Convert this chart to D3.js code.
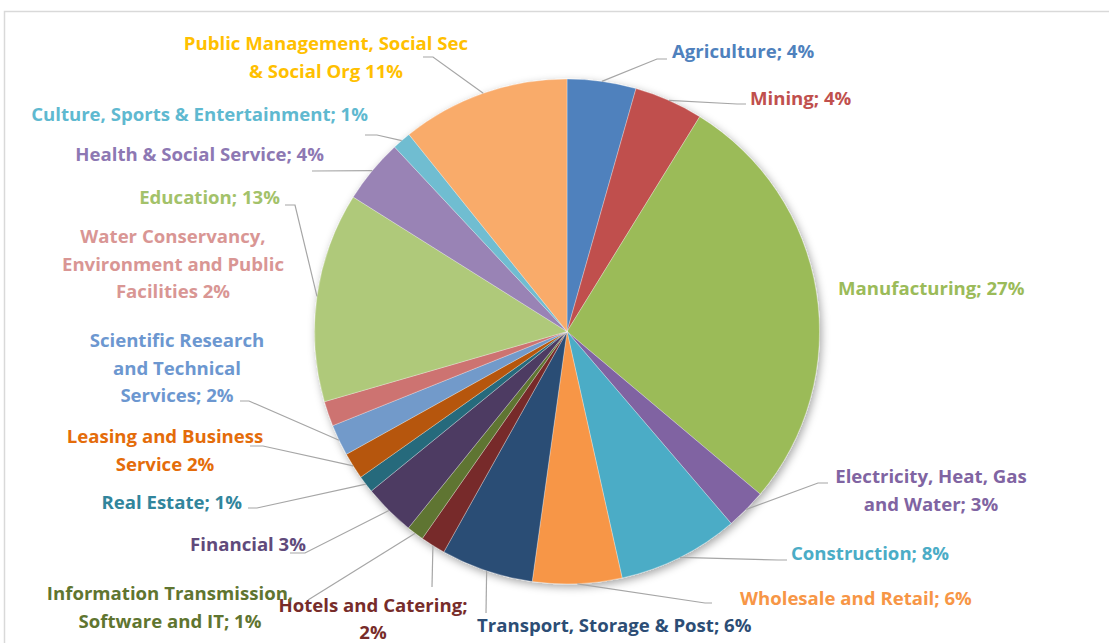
<!DOCTYPE html>
<html>
<head>
<meta charset="utf-8">
<script src="https://cdn.jsdelivr.net/npm/d3@7"></script>
<style>
  html, body { margin: 0; padding: 0; background: #fff; }
  svg { display: block; }
  text { font-family: "Open Sans", Lato, sans-serif; font-weight: 700; }
</style>
</head>
<body>
<svg id="chart" width="1109" height="643"></svg>
<script>
// ---- data ----
const categories = [
  "Agriculture", "Mining", "Manufacturing", "Electricity, Heat, Gas and Water",
  "Construction", "Wholesale and Retail", "Transport, Storage & Post",
  "Hotels and Catering", "Information Transmission, Software and IT", "Financial",
  "Real Estate", "Leasing and Business Service", "Scientific Research and Technical Services",
  "Water Conservancy, Environment and Public Facilities", "Education",
  "Health & Social Service", "Culture, Sports & Entertainment",
  "Public Management, Social Sec & Social Org"
];
const values = [4.4, 4.4, 27.3, 2.6, 7.75, 5.7, 5.9, 1.6, 1.1, 3.3, 1.1, 1.7, 2.0, 1.6, 13.4, 4.1, 1.2, 10.75];
const labelLines = [
  ["Agriculture; 4%"],
  ["Mining; 4%"],
  ["Manufacturing; 27%"],
  ["Electricity, Heat, Gas", "and Water; 3%"],
  ["Construction; 8%"],
  ["Wholesale and Retail; 6%"],
  ["Transport, Storage & Post; 6%"],
  ["Hotels and Catering;", "2%"],
  ["Information Transmission,", "Software and IT; 1%"],
  ["Financial 3%"],
  ["Real Estate; 1%"],
  ["Leasing and Business", "Service 2%"],
  ["Scientific Research", "and Technical", "Services; 2%"],
  ["Water Conservancy,", "Environment and Public", "Facilities 2%"],
  ["Education; 13%"],
  ["Health & Social Service; 4%"],
  ["Culture, Sports & Entertainment; 1%"],
  ["Public Management, Social Sec", "& Social Org 11%"]
];
const sliceColors = [
  "#4F81BD", "#C0504D", "#9BBB59", "#8064A2", "#4BACC6", "#F79646", "#2C4D75",
  "#772C2A", "#5F7530", "#4D3B62", "#276A7C", "#B65708", "#729ACA", "#CD7371",
  "#AFC97A", "#9983B5", "#6FBDD1", "#F9AB6B"
];
const labelColors = [
  "#4F81BD", "#C0504D", "#9BBB59", "#8064A2", "#4BACC6", "#F79646", "#2C4D75",
  "#772C2A", "#5F7530", "#604A7B", "#31859C", "#E46C0A", "#6C97D0", "#D99694",
  "#A3C26A", "#8D78B3", "#5FB9D0", "#FFC000"
];

// ---- layout (label placement, as in the original) ----
const labelLayout = [
  {x: 672, y: 58, anchor: "start", leader: [[667, 59], [657, 59]]},
  {x: 750, y: 105, anchor: "start", leader: [[746, 104], [737, 104]]},
  {x: 838, y: 295, anchor: "start", leader: null},
  {x: 931, y: 483, anchor: "middle", leader: [[828, 483], [818, 483]]},
  {x: 791, y: 560, anchor: "start", leader: [[787, 560], [778, 560]]},
  {x: 740, y: 605, anchor: "start", leader: [[712, 603], [705, 603]]},
  {x: 477, y: 632, anchor: "start", leader: [[486, 613]]},
  {x: 373, y: 612, anchor: "middle", leader: [[432, 587]]},
  {x: 170, y: 600, anchor: "middle", leader: [[308, 600]]},
  {x: 306, y: 551, anchor: "end", leader: [[290, 553], [305, 553]]},
  {x: 242, y: 509, anchor: "end", leader: [[248, 508], [257, 508]]},
  {x: 165, y: 443, anchor: "middle", leader: [[250, 446], [263, 446]]},
  {x: 177, y: 347, anchor: "middle", leader: [[240, 401], [249, 401]]},
  {x: 173, y: 243, anchor: "middle", leader: null},
  {x: 280, y: 204, anchor: "end", leader: [[285, 205], [295, 205]]},
  {x: 324, y: 161, anchor: "end", leader: [[312, 171]]},
  {x: 368, y: 121, anchor: "end", leader: [[365, 135], [377, 135]]},
  {x: 326, y: 50, anchor: "middle", leader: [[423, 57], [433, 57]]}
];
const lineHeight = 27.5;
const fontSize = 18.6;
const cx = 567, cy = 331.5, radius = 252.5;

const svg = d3.select("#chart");

// frame
svg.append("path")
  .attr("d", "M4.5,643 L4.5,11.5 L1109,11.5")
  .attr("fill", "none").attr("stroke", "#d9d9d9").attr("stroke-width", 1.5);

const defs = svg.append("defs");
const f = defs.append("filter").attr("id", "shadow")
  .attr("x", "-20%").attr("y", "-20%").attr("width", "140%").attr("height", "140%");
f.append("feDropShadow").attr("dx", 2).attr("dy", 3).attr("stdDeviation", 4)
  .attr("flood-color", "#000").attr("flood-opacity", 0.35);

const pie = d3.pie().sort(null).value(d => d)(values);
const arc = d3.arc().innerRadius(0).outerRadius(radius);

const g = svg.append("g").attr("transform", `translate(${cx},${cy})`);
const slices = g.append("g").attr("filter", "url(#shadow)");
slices.selectAll("path").data(pie).enter().append("path")
  .attr("d", arc)
  .attr("fill", (d, i) => sliceColors[i])
  .attr("stroke", "#ffffff").attr("stroke-opacity", 0.5).attr("stroke-width", 0.6);

// leaders
pie.forEach((d, i) => {
  const L = labelLayout[i];
  if (!L.leader) return;
  const mid = (d.startAngle + d.endAngle) / 2;
  const end = [cx + radius * Math.sin(mid), cy - radius * Math.cos(mid)];
  const pts = L.leader.concat([end]);
  svg.append("path")
    .attr("d", d3.line()(pts))
    .attr("fill", "none").attr("stroke", "#a6a6a6").attr("stroke-width", 1.2);
});

// labels
labelLines.forEach((lines, i) => {
  const L = labelLayout[i];
  const t = svg.append("text")
    .attr("x", L.x).attr("y", L.y)
    .attr("text-anchor", L.anchor)
    .attr("fill", labelColors[i])
    .attr("font-size", fontSize);
  lines.forEach((ln, k) => {
    t.append("tspan").attr("x", L.x).attr("y", L.y + k * (k === lines.length - 1 && L.y > 600 ? lineHeight - 1 : lineHeight)).text(ln);
  });
});
</script>
</body>
</html>
